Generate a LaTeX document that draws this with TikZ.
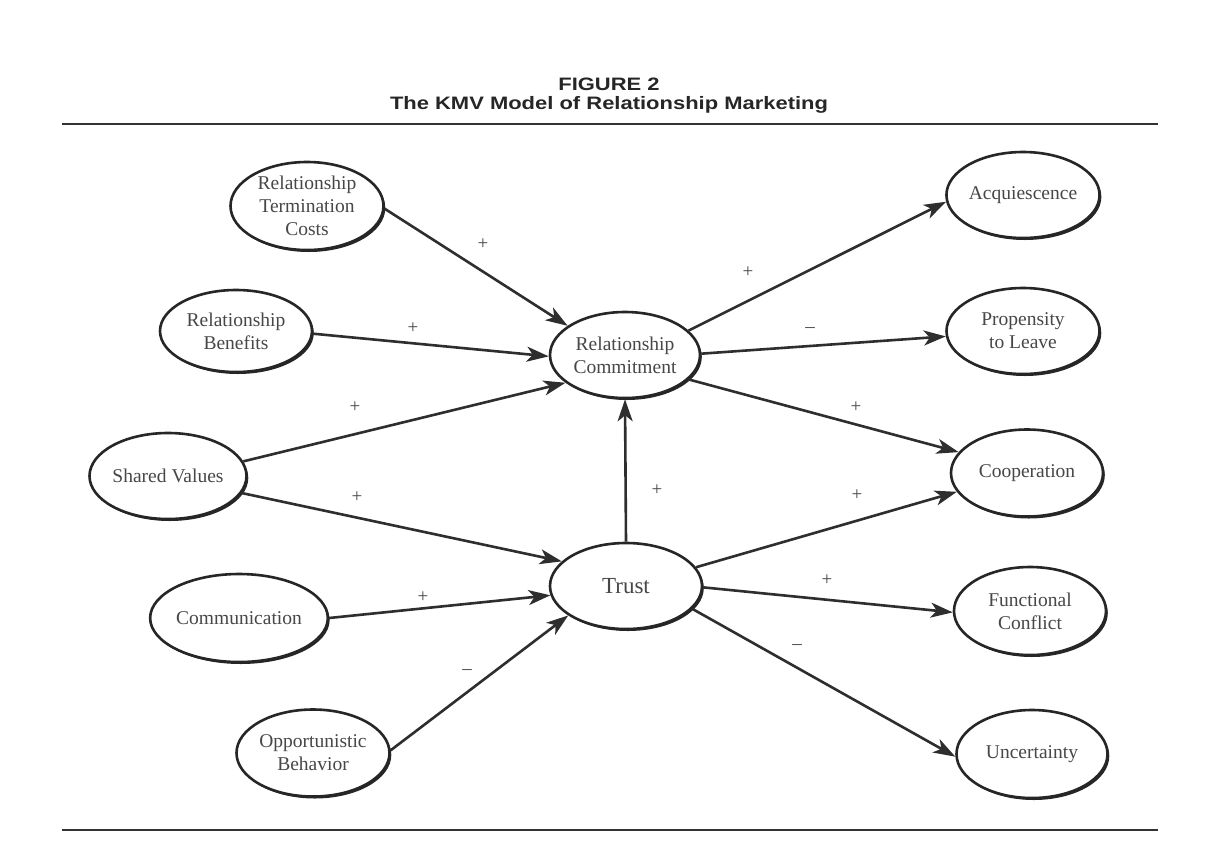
\documentclass[tikz,border=0pt]{standalone}
\usepackage{fontspec}
\setmainfont{Liberation Serif}
\newfontfamily\titlefont[FakeStretch=1.22]{Liberation Sans}
\usetikzlibrary{shapes.geometric,arrows.meta,shadows}
\begin{document}
\begin{tikzpicture}[x=1pt,y=-1pt,
  ov/.style={ellipse, draw=black!85, line width=2.6pt, fill=white, inner sep=0pt, align=center,
    text=black!72, font=\fontsize{19.5}{23}\selectfont,
    drop shadow={shadow xshift=1.8pt, shadow yshift=-2pt, fill=black!85, opacity=1}},
  link/.style={line width=2.6pt, draw=black!82, -{Stealth[length=22pt,width=15pt,inset=6pt]}},
  sg/.style={font=\fontsize{19}{19}\selectfont, text=black!72, inner sep=0pt},
  ttl/.style={font=\titlefont\bfseries\fontsize{18}{20}\selectfont, text=black!85, inner sep=0pt, anchor=base},
  rule/.style={line width=1.6pt, draw=black!80}]
\useasboundingbox[fill=white] (0,0) rectangle (1216,863);

% title
\node[ttl] (fig) at (609,90) {FIGURE 2};
\node[ttl] (title) at (609,109) {The KMV Model of Relationship Marketing};
\coordinate (r1a) at (62,124); \coordinate (r1b) at (1158,124);
\coordinate (r2a) at (62,830); \coordinate (r2b) at (1158,830);
\draw[rule] (r1a) -- (r1b);
\draw[rule] (r2a) -- (r2b);

% nodes
\node[ov, minimum width=153pt, minimum height=88pt] (rtc) at (307,206) {Relationship\\Termination\\Costs};
\node[ov, minimum width=152pt, minimum height=82pt] (rb) at (236,331) {Relationship\\Benefits};
\node[ov, minimum width=150pt, minimum height=86pt] (sv) at (168,476) {Shared Values};
\node[ov, minimum width=152pt, minimum height=88pt] (com) at (239,618) {Communication};
\node[ov, minimum width=153pt, minimum height=87pt] (ob) at (313,753) {Opportunistic\\Behavior};
\node[ov, minimum width=150pt, minimum height=86pt] (rc) at (625,355) {Relationship\\Commitment};
\node[ov, minimum width=152pt, minimum height=86pt, font=\fontsize{23}{25}\selectfont] (tr) at (626,586) {Trust};
\node[ov, minimum width=150pt, minimum height=86pt] (acq) at (1023,195) {Acquiescence};
\node[ov, minimum width=153pt, minimum height=86pt] (ptl) at (1023,331) {Propensity\\to Leave};
\node[ov, minimum width=152pt, minimum height=87pt] (coop) at (1027,473) {Cooperation};
\node[ov, minimum width=152pt, minimum height=88pt] (fc) at (1030,611) {Functional\\Conflict};
\node[ov, minimum width=151pt, minimum height=88pt] (unc) at (1032,754) {Uncertainty};

% connectors
\draw[link] (rtc.-2) -- (rc.153);
\draw[link] (rb.-2) -- (rc.181);
\draw[link] (sv.11) -- (rc.205);
\draw[link] (sv.-13) -- (tr.159);
\draw[link] (com.0) -- (tr.187);
\draw[link] (ob.2) -- (tr.207);
\draw[link] (tr.north) -- (rc.south);
\draw[link] (rc.21) -- (acq.185);
\draw[link] (rc.1) -- (ptl.184);
\draw[link] (rc.-21) -- (coop.163);
\draw[link] (tr.15) -- (coop.195);
\draw[link] (tr.-1) -- (fc.181);
\draw[link] (tr.-19) -- (unc.182);

% signs
\node[sg] (s1) at (483,244) {+};
\node[sg] (s2) at (413,328) {+};
\node[sg] (s3) at (355,407) {+};
\node[sg] (s4) at (357,497) {+};
\node[sg] (s5) at (423,597) {+};
\node[sg] (s6) at (467,672) {–};
\node[sg] (s7) at (657,490) {+};
\node[sg] (s8) at (748,272) {+};
\node[sg] (s9) at (810,330) {–};
\node[sg] (s10) at (856,407) {+};
\node[sg] (s11) at (857,495) {+};
\node[sg] (s12) at (827,580) {+};
\node[sg] (s13) at (797,647) {–};
\end{tikzpicture}
\end{document}
